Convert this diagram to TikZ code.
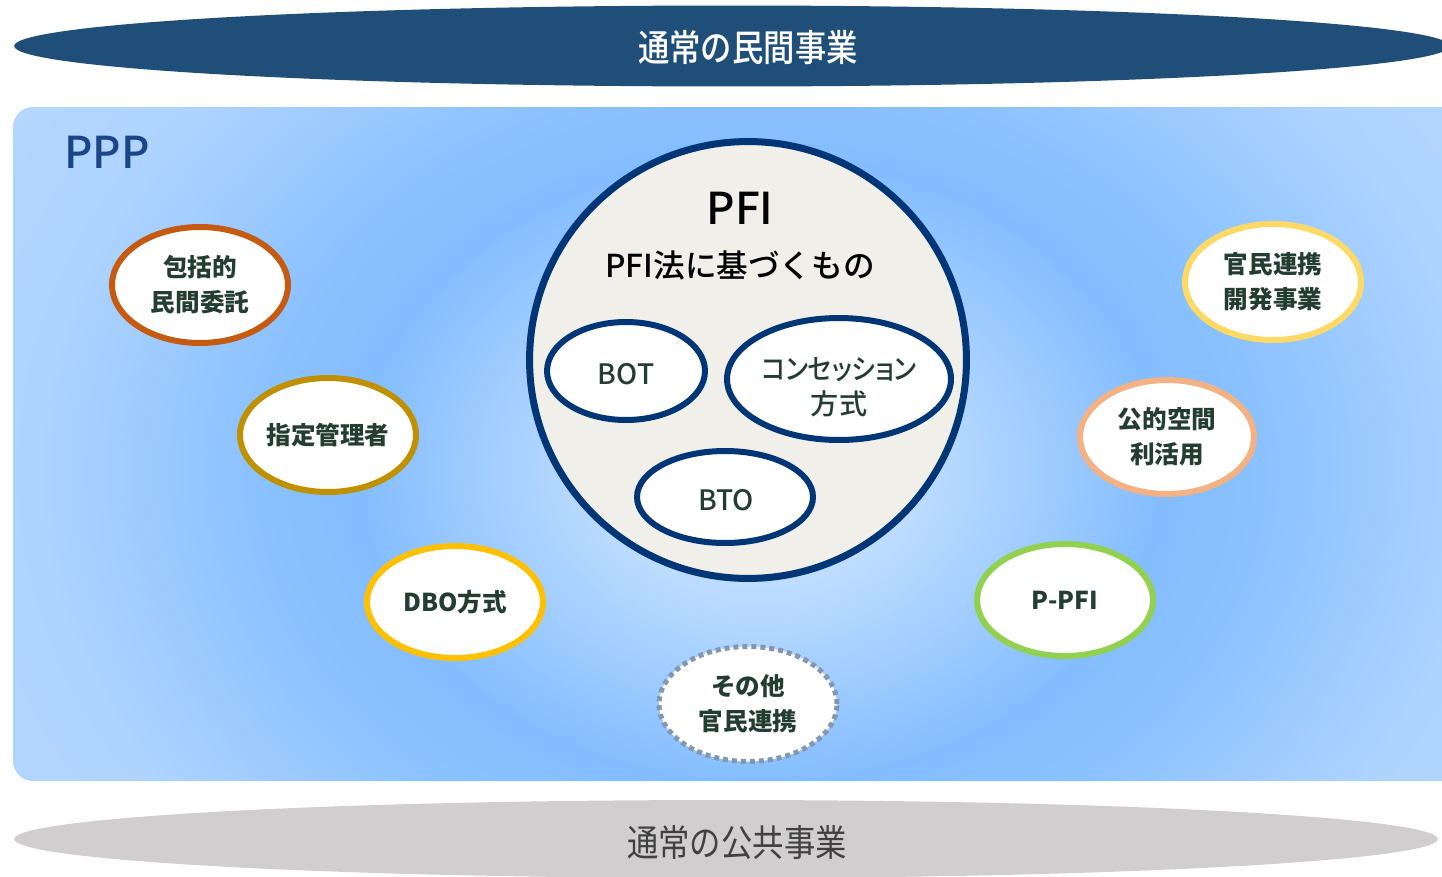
\documentclass[tikz,border=0pt]{standalone}
\usepackage{fontspec}
\setmainfont{Noto Sans CJK JP}
\newfontfamily\medfont{Noto Sans CJK JP}[UprightFont=* Medium]
\newfontfamily\medpfont{Noto Sans CJK JP}[UprightFont=* Medium, RawFeature=+palt]
\usetikzlibrary{shapes.geometric}
\definecolor{topblue}{HTML}{1F4E79}
\definecolor{botgray}{HTML}{D0CECE}
\definecolor{botText}{HTML}{404040}
\definecolor{pppText}{HTML}{1B4587}
\definecolor{ovText}{HTML}{243D33}
\definecolor{navy}{HTML}{003576}
\definecolor{pfiFill}{HTML}{F0EFEA}
\definecolor{cA}{HTML}{C55A11}
\definecolor{cB}{HTML}{BF9000}
\definecolor{cC}{HTML}{FFC000}
\definecolor{cD}{HTML}{8497B0}
\definecolor{cE}{HTML}{92D050}
\definecolor{cF}{HTML}{F4B183}
\definecolor{cG}{HTML}{FFD966}
\definecolor{s0}{HTML}{C6E2FF}
\definecolor{s1}{HTML}{BCDCFF}
\definecolor{s2}{HTML}{84BDFF}
\definecolor{s2b}{HTML}{8AC1FF}
\definecolor{s3}{HTML}{ADD3FF}
\definecolor{s4}{HTML}{BAD9FF}
\pgfdeclareradialshading{pppbg}{\pgfpoint{0bp}{0bp}}{color(0bp)=(s0); color(4bp)=(s1); color(10bp)=(s2); color(12.5bp)=(s2b); color(18bp)=(s3); color(25bp)=(s4); color(50bp)=(s4)}
\tikzset{
  oval/.style={ellipse, draw=#1, line width=0.12cm, fill=white, inner sep=0pt},
  inoval/.style={ellipse, draw=navy, line width=0.12cm, fill=white, inner sep=0pt},
  ovtext/.style={align=center, text=ovText, font=\fontsize{14}{19.8}\selectfont\bfseries},
  intext/.style={align=center, text=ovText, font=\fontsize{16}{20}\medfont},
  bigell/.style={ellipse, inner sep=0pt},
}
\begin{document}
\begin{tikzpicture}[x=0.02cm,y=-0.02cm]
\useasboundingbox (0,0) rectangle (1442,876);
% top ellipse
\node[bigell, fill=topblue, minimum width=28.72cm, minimum height=1.62cm] (top) at (732,46) {};
\node[text=white, font=\fontsize{21}{24}\medfont] (topt) at (748,48) {\scalebox{0.85}[1]{通常の民間事業}};
% PPP area
\begin{scope}
\clip[rounded corners=0.4cm] (13,107) rectangle (1480,781);
\shade[shading=pppbg] (760,470) ellipse [x radius=20cm, y radius=15.6cm];
\end{scope}
\node[text=pppText, font=\fontsize{25}{30}\medfont] (ppp) at (107,152) {PPP};
% bottom ellipse
\node[bigell, fill=botgray, minimum width=28.48cm, minimum height=1.56cm] (bot) at (726,839) {};
\node[text=botText, font=\fontsize{21}{24}\selectfont] (bott) at (737,843) {\scalebox{0.85}[1]{通常の公共事業}};
% PFI circle
\node[circle, draw=navy, line width=0.14cm, fill=pfiFill, minimum size=8.74cm, inner sep=0pt] (pfi) at (748,360) {};
\node[font=\fontsize{25}{30}\medfont] (pfit) at (740,208) {PFI};
\node[font=\fontsize{18}{22}\medfont] (pfisub) at (740,265) {PFI法に基づくもの};
\node[inoval, minimum width=3.16cm, minimum height=1.96cm] (bot1) at (626,371) {};
\node[intext] (bot1t) at (626,374) {BOT};
\node[inoval, minimum width=4.48cm, minimum height=2.44cm] (conc) at (839,379) {};
\node[intext, font=\fontsize{16}{20}\medpfont] (conct) at (839,387) {\scalebox{0.9}[1]{コンセッション}\\方式};
\node[inoval, minimum width=3.52cm, minimum height=1.84cm] (bto) at (725,497) {};
\node[intext] (btot) at (726,500) {BTO};
% outer ovals
\node[oval=cA, minimum width=3.52cm, minimum height=2.32cm] (hokatsu) at (200,285) {};
\node[ovtext] at (hokatsu) {包括的\\民間委託};
\node[oval=cB, minimum width=3.52cm, minimum height=2.28cm] (shitei) at (328,435) {};
\node[ovtext] at (shitei) {指定管理者};
\node[oval=cC, minimum width=3.52cm, minimum height=2.24cm] (dbo) at (455,602) {};
\node[ovtext] at (dbo) {DBO方式};
\node[oval=cD, line width=0.1cm, dash pattern=on 0.1cm off 0.08cm, minimum width=3.56cm, minimum height=2.3cm] (sonota) at (748,704) {};
\node[ovtext] at (sonota) {その他\\官民連携};
\node[oval=cE, minimum width=3.52cm, minimum height=2.24cm] (ppfi) at (1065,600) {};
\node[ovtext] at (ppfi) {P-PFI};
\node[oval=cF, minimum width=3.48cm, minimum height=2.28cm] (koteki) at (1167,437) {};
\node[ovtext] at (koteki) {公的空間\\利活用};
\node[oval=cG, minimum width=3.52cm, minimum height=2.32cm] (kanmin) at (1273,282) {};
\node[ovtext] at (kanmin) {官民連携\\開発事業};
\end{tikzpicture}
\end{document}
